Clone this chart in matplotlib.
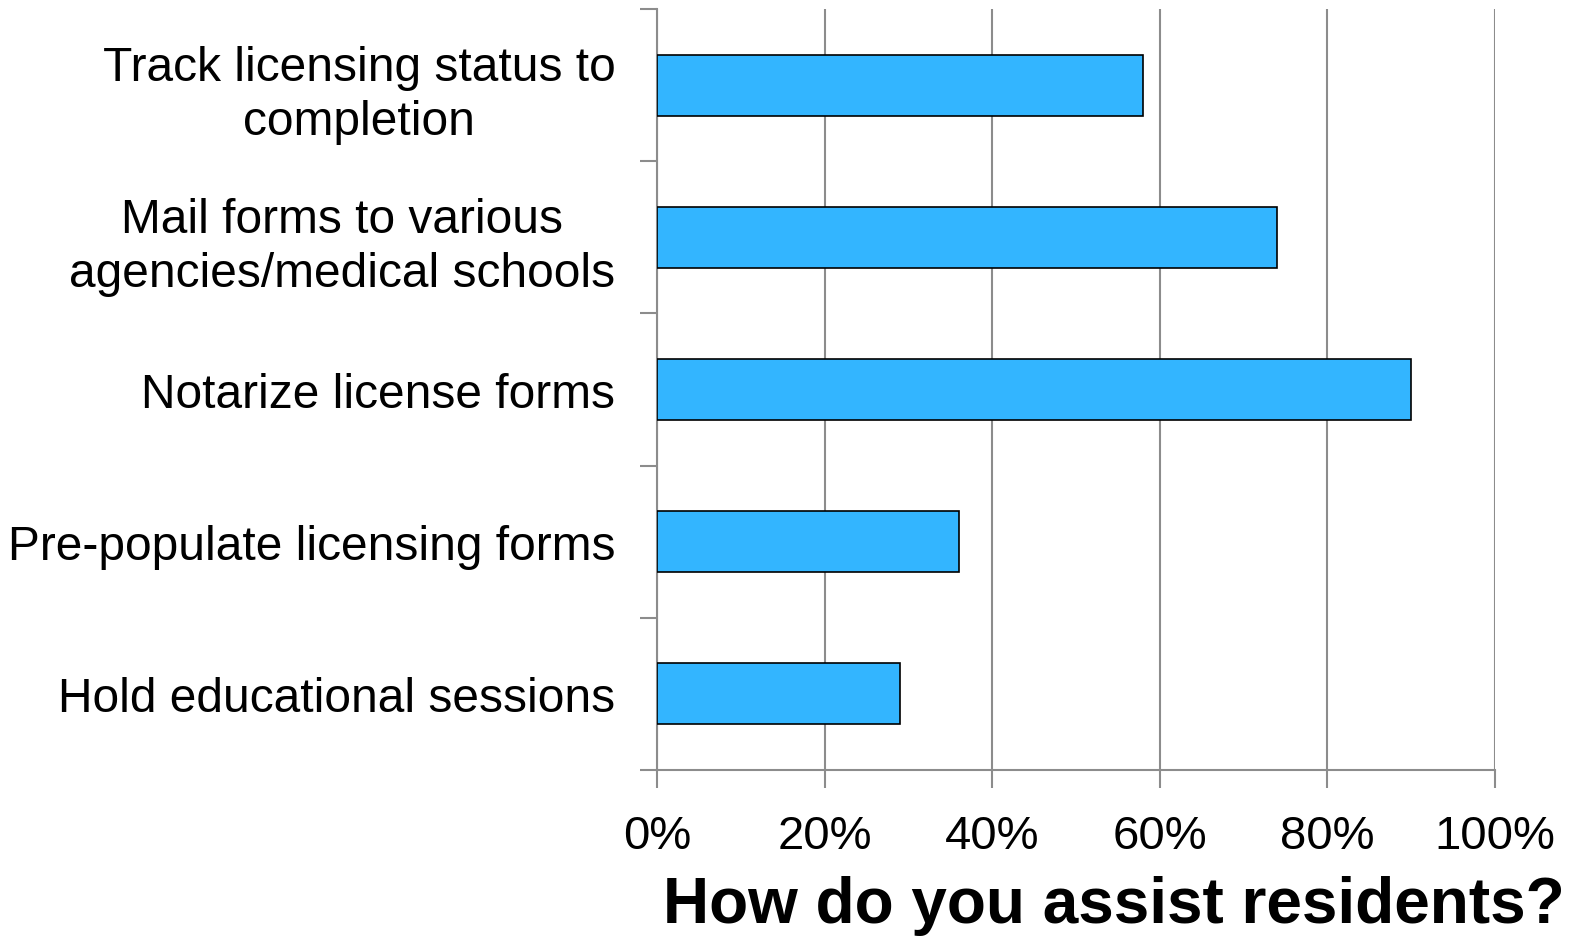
import matplotlib
matplotlib.use("Agg")
import matplotlib.pyplot as plt
import numpy as np

categories = [
    "Track licensing status to\ncompletion",
    "Mail forms to various\nagencies/medical schools",
    "Notarize license forms",
    "Pre-populate licensing forms",
    "Hold educational sessions",
]
percent = [58, 74, 90, 36, 29]
x_ticks = [0, 20, 40, 60, 80, 100]
x_tick_labels = ["0%", "20%", "40%", "60%", "80%", "100%"]
axis_title = "How do you assist residents?"

plt.rcParams["font.family"] = ["Liberation Sans", "DejaVu Sans"]

grid_color = "#8c8c8c"
bar_color = "#33b5ff"

fig = plt.figure(figsize=(15.75, 9.37), dpi=100)
ax = fig.add_axes([657 / 1575, 1 - 771 / 937, (1495 - 657) / 1575, (771 - 10) / 937])

y = np.arange(len(categories))
ax.barh(y, percent, height=0.4, color=bar_color, edgecolor="black", linewidth=1.2, zorder=3)

ax.set_xlim(0, 100)
ax.set_ylim(len(categories) - 0.5, -0.5)

# vertical grid lines
ax.set_xticks(x_ticks)
ax.set_xticklabels(x_tick_labels, fontsize=34)
ax.grid(axis="x", color=grid_color, linewidth=1.5, zorder=0)
ax.tick_params(axis="x", length=13, width=1.5, color=grid_color, pad=19)

# category labels at centres, ticks at boundaries
ax.set_yticks(y)
ax.set_yticklabels(categories, fontsize=34.5, multialignment="center", linespacing=1.25)
ax.tick_params(axis="y", which="major", length=0, pad=30)
ax.set_yticks(np.arange(len(categories) + 1) - 0.5, minor=True)
ax.tick_params(axis="y", which="minor", length=12, width=1.5, color=grid_color)

for side in ["top", "right"]:
    ax.spines[side].set_visible(False)
for side in ["left", "bottom"]:
    ax.spines[side].set_color(grid_color)
    ax.spines[side].set_linewidth(1.5)

fig.text(1114 / 1575, 1 - 906 / 937, axis_title, fontsize=46, fontweight="bold",
         ha="center", va="center")

fig.savefig("out.png", dpi=100)
